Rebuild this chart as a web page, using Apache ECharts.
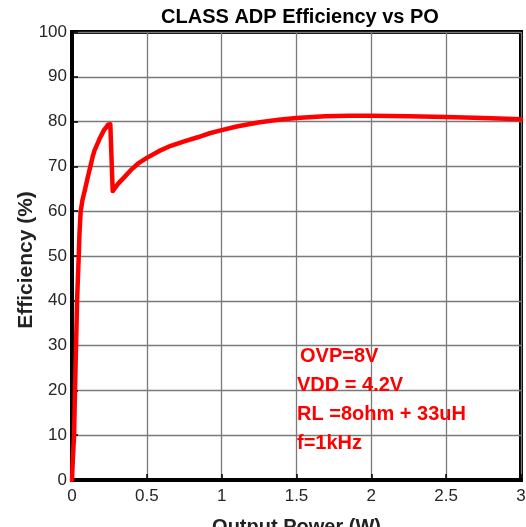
<!DOCTYPE html>
<html>
<head>
<meta charset="utf-8">
<script src="https://cdn.jsdelivr.net/npm/echarts@6/dist/echarts.min.js"></script>
<style>html,body{margin:0;padding:0;background:#fff;}#c{width:526px;height:527px;}</style>
</head>
<body>
<div id="c"></div>
<script>
// Output power (W)
const powerW = [0, 0.006, 0.014, 0.02, 0.027, 0.034, 0.045, 0.05, 0.058, 0.07, 0.088, 0.105, 0.123, 0.137, 0.15, 0.172, 0.186, 0.2, 0.215, 0.228, 0.24, 0.25, 0.256, 0.272, 0.29, 0.31, 0.35, 0.4, 0.44, 0.5, 0.58, 0.66, 0.75, 0.84, 0.92, 1.0, 1.1, 1.243, 1.38, 1.5, 1.69, 1.85, 2.0, 2.25, 2.5, 2.75, 3.0];
// Efficiency (%)
const efficiency = [0, 5, 10, 20, 30, 40, 50, 55, 60, 62.5, 65, 67.5, 70, 72, 73.5, 75.2, 76.3, 77.2, 78.2, 78.7, 79.3, 79.6, 79.4, 64.5, 65.3, 66.2, 67.6, 69.4, 70.6, 71.9, 73.4, 74.6, 75.6, 76.5, 77.4, 78.1, 78.9, 79.8, 80.4, 80.8, 81.2, 81.3, 81.3, 81.2, 81.0, 80.8, 80.5];
const xTicks = [0, 0.5, 1, 1.5, 2, 2.5, 3];
const yTicks = [0, 10, 20, 30, 40, 50, 60, 70, 80, 90, 100];
const notes = ["OVP=8V", "VDD = 4.2V", "RL =8ohm + 33uH", "f=1kHz"];
const title = "CLASS ADP Efficiency vs PO";

const FONT = "'Liberation Sans', Arial, sans-serif";
const chart = echarts.init(document.getElementById('c'), null, {renderer: 'canvas'});
const noteLeft = [300, 297, 297, 297];
const noteTop = [346, 375, 404, 433];
chart.setOption({
  animation: false,
  backgroundColor: '#fff',
  title: {
    text: title, left: 295, top: 2, textAlign: 'center',
    textStyle: {fontFamily: FONT, fontSize: 20, fontWeight: 'bold', color: '#000'}
  },
  grid: {left: 72, right: 5, top: 32, bottom: 47, show: true, borderColor: '#000', borderWidth: 4,
    containLabel: false, outerBoundsMode: 'none'},
  xAxis: {
    type: 'value', min: xTicks[0], max: xTicks[xTicks.length - 1], interval: 0.5,
    name: 'Output Power (W)', nameLocation: 'middle', nameGap: 37, nameMoveOverlap: false,
    nameTextStyle: {fontFamily: FONT, fontSize: 20, fontWeight: 'bold', color: '#222'},
    axisLine: {show: true, lineStyle: {color: '#000', width: 4}},
    axisTick: {show: true, inside: true, length: 6, lineStyle: {color: '#000', width: 1.5}},
    axisLabel: {margin: 8, fontFamily: FONT, fontSize: 17, color: '#262626',
      formatter: v => String(v)},
    splitLine: {show: true, lineStyle: {color: '#7a7a7a', width: 1.3}}
  },
  yAxis: {
    type: 'value', min: yTicks[0], max: yTicks[yTicks.length - 1], interval: 10,
    name: 'Efficiency (%)', nameLocation: 'middle', nameGap: 35, nameMoveOverlap: false,
    nameTextStyle: {fontFamily: FONT, fontSize: 21, fontWeight: 'bold', color: '#222', padding: [0, 8, 0, 0]},
    axisLine: {show: true, lineStyle: {color: '#000', width: 4}},
    axisTick: {show: true, inside: true, length: 6, lineStyle: {color: '#000', width: 1.5}},
    axisLabel: {margin: 5, fontFamily: FONT, fontSize: 17, color: '#262626'},
    splitLine: {show: true, lineStyle: {color: '#7a7a7a', width: 1.3}}
  },
  series: [{
    type: 'line',
    data: powerW.map((x, i) => [x, efficiency[i]]),
    showSymbol: false, symbol: 'none', smooth: false,
    lineStyle: {color: '#ff0000', width: 4.5, join: 'round', cap: 'round'},
    z: 5
  }],
  graphic: notes.map((t, i) => ({
    type: 'text', left: noteLeft[i], top: noteTop[i], z: 10,
    style: {text: t, font: "bold 20px " + FONT, fill: '#ff0000'}
  }))
});
</script>
</body>
</html>
